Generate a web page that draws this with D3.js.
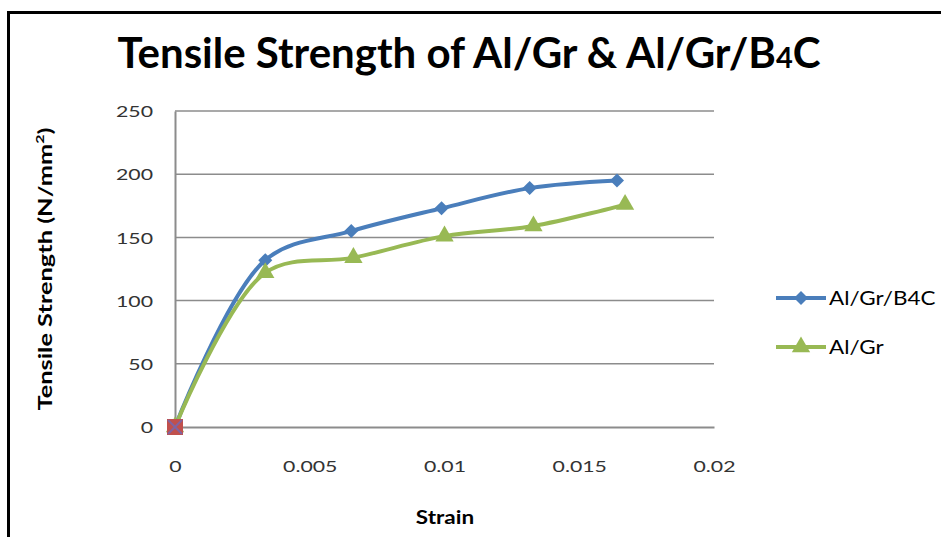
<!DOCTYPE html>
<html>
<head>
<meta charset="utf-8">
<script src="https://cdn.jsdelivr.net/npm/d3@7"></script>
<style>
  html, body { margin: 0; padding: 0; background: #fff; }
  svg { display: block; }
</style>
</head>
<body>
<svg id="chart" width="941" height="537"></svg>
<script>
// Strain values and tensile strength (N/mm²) for each composite
const strainB4C = [0, 0.00335, 0.00654, 0.00989, 0.01316, 0.0164];
const strengthB4C = [0, 132, 155, 173, 189, 195];
const strainGr = [0, 0.00335, 0.00662, 0.0100, 0.0133, 0.0167];
const strengthGr = [0, 122, 134, 151, 159, 176];
const originStrain = [0];
const originStrength = [0];

const xTicks = [0, 0.005, 0.01, 0.015, 0.02];
const xTickLabels = ["0", "0.005", "0.01", "0.015", "0.02"];
const yTicks = [0, 50, 100, 150, 200, 250];
const seriesNames = ["Al/Gr/B4C", "Al/Gr"];

const blue = "#4a7ebb";
const green = "#98b954";
const font = "Lato, 'Open Sans', sans-serif";

const svg = d3.select("#chart");

// widen text horizontally by a factor, keeping its anchor
function widen(sel, factor) {
  sel.each(function () {
    const len = this.getComputedTextLength();
    d3.select(this).attr("textLength", len * factor).attr("lengthAdjust", "spacingAndGlyphs");
  });
}

// outer chart frame (runs off the right and bottom edges)
svg.append("path")
  .attr("d", "M8.5,600 L8.5,12.5 L1000,12.5")
  .attr("fill", "none").attr("stroke", "#000").attr("stroke-width", 3);

const x = d3.scaleLinear().domain([0, 0.02]).range([175, 714]);
const y = d3.scaleLinear().domain([0, 250]).range([427, 111]);

// horizontal gridlines
svg.append("g")
  .selectAll("line").data(yTicks.slice(1)).join("line")
  .attr("x1", x(0)).attr("x2", x(0.02))
  .attr("y1", d => y(d)).attr("y2", d => y(d))
  .attr("stroke", "#8c8c8c").attr("stroke-width", 1.5);

// axes
const yAxis = svg.append("g").attr("transform", `translate(${x(0)},0)`)
  .call(d3.axisLeft(y).tickValues(yTicks).tickSize(0).tickPadding(22));
const xAxis = svg.append("g").attr("transform", `translate(0,${y(0)})`)
  .call(d3.axisBottom(x).tickValues(xTicks).tickSize(0).tickPadding(34)
    .tickFormat((d, i) => xTickLabels[i]));
[yAxis, xAxis].forEach(g => {
  g.select(".domain").attr("stroke", "#8c8c8c").attr("stroke-width", 2);
  g.selectAll("text").attr("font-family", font).attr("font-size", 16).attr("fill", "#333");
  widen(g.selectAll("text"), 1.33);
});
yAxis.selectAll("text").attr("dy", "0.36em");

// series lines
const series = [
  { xs: strainB4C, ys: strengthB4C, color: blue, marker: "diamond" },
  { xs: strainGr, ys: strengthGr, color: green, marker: "triangle" }
];
const line = d3.line().x(d => x(d[0])).y(d => y(d[1])).curve(d3.curveCatmullRom.alpha(0.5));

series.forEach(s => {
  const pts = s.xs.map((v, i) => [v, s.ys[i]]);
  svg.append("path").datum(pts)
    .attr("d", line).attr("fill", "none")
    .attr("stroke", s.color).attr("stroke-width", 4).attr("stroke-linejoin", "round");
});

const diamond = d3.symbol().type(d3.symbolDiamond2).size(125);
const triangle = d3.symbol().type(d3.symbolTriangle).size(145);

series.forEach(s => {
  const pts = s.xs.map((v, i) => [v, s.ys[i]]);
  svg.append("g").selectAll("path").data(pts).join("path")
    .attr("transform", d => `translate(${x(d[0])},${y(d[1])})`)
    .attr("d", s.marker === "diamond" ? diamond : triangle)
    .attr("fill", s.color);
});

// origin marker
originStrain.forEach((v, i) => {
  const cx = x(v), cy = y(originStrength[i]);
  svg.append("rect").attr("x", cx - 8).attr("y", cy - 8).attr("width", 16).attr("height", 16)
    .attr("fill", "#c0504d");
  svg.append("path").attr("d", `M${cx-7},${cy-7}L${cx+7},${cy+7}M${cx+7},${cy-7}L${cx-7},${cy+7}`)
    .attr("stroke", "#8064a2").attr("stroke-width", 2);
});

// title
const title = svg.append("text")
  .attr("x", 469).attr("y", 68).attr("text-anchor", "middle")
  .attr("font-family", font).attr("font-weight", "bold").attr("font-size", 42).attr("fill", "#000");
title.append("tspan").text("Tensile Strength of Al/Gr & Al/Gr/B");
title.append("tspan").attr("font-size", 29).text("4");
title.append("tspan").text("C");

// axis titles
const xTitle = svg.append("text")
  .attr("x", 445).attr("y", 524).attr("text-anchor", "middle")
  .attr("font-family", font).attr("font-weight", "bold").attr("font-size", 18).attr("fill", "#000")
  .text("Strain");
widen(xTitle, 1.25);

const yTitle = svg.append("text")
  .attr("transform", "translate(52,269) rotate(-90)").attr("text-anchor", "middle")
  .attr("font-family", font).attr("font-weight", "bold").attr("font-size", 19).attr("fill", "#000")
  .attr("textLength", 283).attr("lengthAdjust", "spacingAndGlyphs");
yTitle.append("tspan").text("Tensile Strength (N/mm");
yTitle.append("tspan").attr("font-size", 12).attr("dy", -8).text("2");
yTitle.append("tspan").attr("dy", 8).text(")");

// legend
const legend = svg.append("g");
seriesNames.forEach((name, i) => {
  const ly = 298 + i * 49;
  const s = series[i];
  legend.append("line").attr("x1", 776).attr("x2", 826).attr("y1", ly).attr("y2", ly)
    .attr("stroke", s.color).attr("stroke-width", 4);
  legend.append("path").attr("transform", `translate(801,${ly})`)
    .attr("d", s.marker === "diamond" ? diamond : triangle).attr("fill", s.color);
  const t = legend.append("text").attr("x", 829).attr("y", ly + 7)
    .attr("font-family", font).attr("font-size", 19).attr("fill", "#000").text(name);
  widen(t, 1.18);
});
</script>
</body>
</html>
